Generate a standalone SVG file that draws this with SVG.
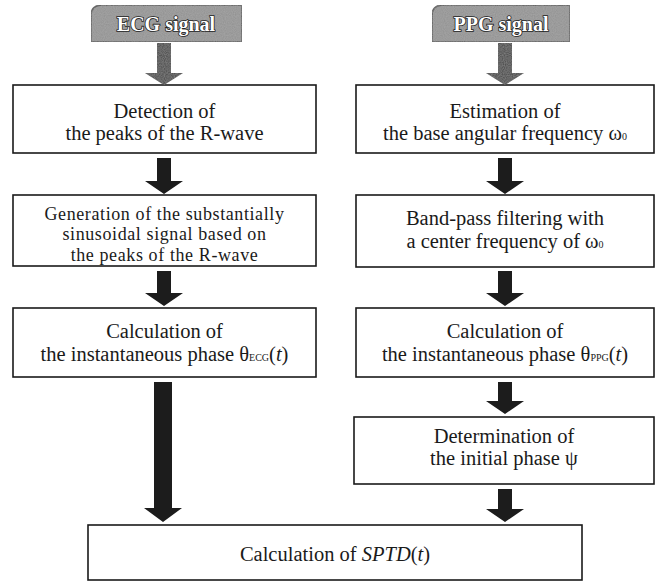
<svg xmlns="http://www.w3.org/2000/svg" width="663" height="586" viewBox="0 0 663 586">
<style>
  .box { fill: #ffffff; stroke: #1a1a1a; stroke-width: 1.6; }
  .sig { fill: #8f8f8f; stroke: #4a4a4a; stroke-width: 1.5; }
  .t { font-family: "Liberation Serif", "Times New Roman", serif; font-size: 20.5px; fill: #1a1a1a; text-anchor: middle; }
  .t3 { font-size: 18px; letter-spacing: 0.6px; }
  .st { font-family: "Liberation Serif", "Times New Roman", serif; font-size: 20px; font-weight: bold; fill: #ffffff; stroke: #1f1f1f; stroke-width: 1.6; paint-order: stroke; text-anchor: middle; }
  .sub { font-size: 10px; }
  .arr { fill: #1c1c1c; }
  .arrg { fill: #383838; }
</style>
<defs>
  <filter id="grain" x="0" y="0" width="100%" height="100%">
    <feTurbulence type="fractalNoise" baseFrequency="0.9" numOctaves="1" seed="3" result="n"/>
    <feColorMatrix in="n" type="matrix" values="0 0 0 0 0.6  0 0 0 0 0.6  0 0 0 0 0.6  0 0 0 0.35 0" result="g"/>
    <feComposite in="g" in2="SourceGraphic" operator="in" result="gi"/>
    <feMerge><feMergeNode in="SourceGraphic"/><feMergeNode in="gi"/></feMerge>
  </filter>
</defs>

<g id="ecg-signal">
  <path class="sig" filter="url(#grain)" d="M91,42 V16 Q91,5 102,5 H242 V42 Z"/>
  <text class="st" x="166" y="31">ECG signal</text>
</g>
<g id="ppg-signal">
  <path class="sig" filter="url(#grain)" d="M432,42 V16 Q432,5 443,5 H570 V42 Z"/>
  <text class="st" x="501" y="31">PPG signal</text>
</g>

<g id="detect-peaks">
  <rect class="box" x="13" y="85" width="303" height="68"/>
  <text class="t" x="164.5" y="118">Detection of</text>
  <text class="t" x="164.5" y="140">the peaks of the R-wave</text>
</g>
<g id="generate-sinusoid">
  <rect class="box" x="13" y="195" width="303" height="71"/>
  <text class="t t3" x="164.5" y="219.5">Generation of the substantially</text>
  <text class="t t3" x="164.5" y="240">sinusoidal signal based on</text>
  <text class="t t3" x="164.5" y="260.5">the peaks of the R-wave</text>
</g>
<g id="phase-ecg">
  <rect class="box" x="13" y="308" width="303" height="69"/>
  <text class="t" x="164.5" y="338">Calculation of</text>
  <text class="t" x="164.5" y="361">the instantaneous phase θ<tspan class="sub">ECG</tspan>(<tspan font-style="italic">t</tspan>)</text>
</g>

<g id="estimate-omega">
  <rect class="box" x="356" y="85" width="298" height="68"/>
  <text class="t" x="505" y="118">Estimation of</text>
  <text class="t" x="505" y="140">the base angular frequency ω<tspan class="sub">0</tspan></text>
</g>
<g id="bandpass">
  <rect class="box" x="356" y="195" width="298" height="72"/>
  <text class="t" x="505" y="225">Band-pass filtering with</text>
  <text class="t" x="505" y="248">a center frequency of ω<tspan class="sub">0</tspan></text>
</g>
<g id="phase-ppg">
  <rect class="box" x="356" y="308" width="298" height="69"/>
  <text class="t" x="505" y="338">Calculation of</text>
  <text class="t" x="505" y="361">the instantaneous phase θ<tspan class="sub">PPG</tspan>(<tspan font-style="italic">t</tspan>)</text>
</g>
<g id="initial-phase">
  <rect class="box" x="354" y="417" width="300" height="67"/>
  <text class="t" x="504" y="443">Determination of</text>
  <text class="t" x="504" y="465">the initial phase ψ</text>
</g>

<g id="sptd">
  <rect class="box" x="88" y="525" width="494" height="55"/>
  <text class="t" x="335" y="561">Calculation of <tspan font-style="italic">SPTD</tspan>(<tspan font-style="italic">t</tspan>)</text>
</g>

<g id="connectors">
  <path class="arrg" filter="url(#grain)" d="M157,43 H171 V73 H183 L164,85 L145,73 H157 Z"/>
  <path class="arrg" filter="url(#grain)" d="M498,43 H512 V73 H524 L505,85 L486,73 H498 Z"/>
  <path class="arr" d="M157,158 H171 V181 H183 L164,194 L145,181 H157 Z"/>
  <path class="arr" d="M498,158 H512 V181 H524 L505,194 L486,181 H498 Z"/>
  <path class="arr" d="M157,271 H171 V293 H183 L164,306 L145,293 H157 Z"/>
  <path class="arr" d="M498,271 H512 V293 H524 L505,306 L486,293 H498 Z"/>
  <path class="arr" d="M498,382 H512 V401 H524 L505,414 L486,401 H498 Z"/>
  <path class="arr" d="M154,382 H172 V508 H182 L163,522 L144,508 H154 Z"/>
  <path class="arr" d="M498,489 H512 V509 H524 L505,522 L486,509 H498 Z"/>
</g>
</svg>
